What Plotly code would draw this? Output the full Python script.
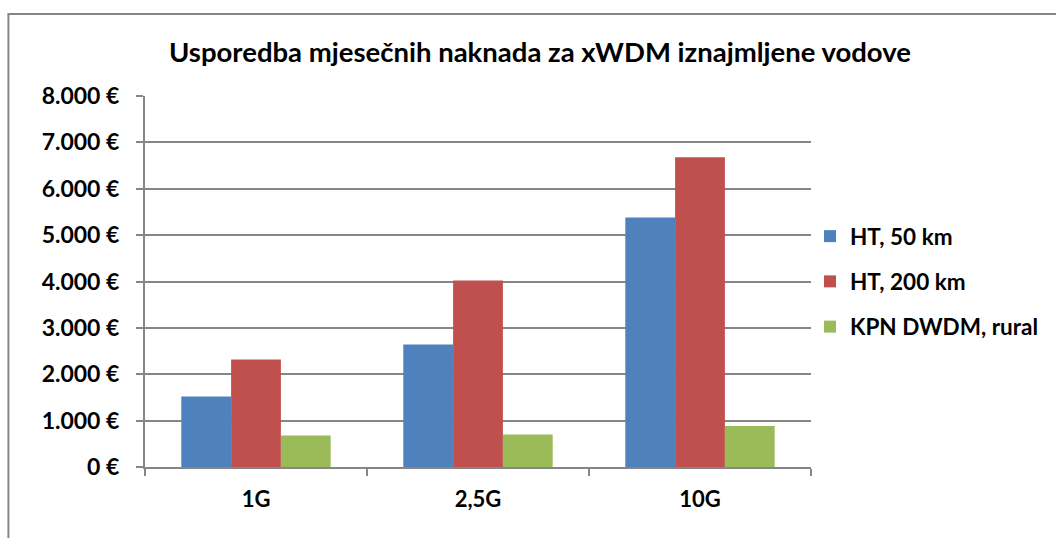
import plotly.graph_objects as go

categories = ["1G", "2,5G", "10G"]
ht_50 = [1520, 2640, 5380]
ht_200 = [2320, 4020, 6680]
kpn_rural = [680, 700, 885]
series_names = ["HT, 50 km", "HT, 200 km", "KPN DWDM, rural"]
colors = ["#4F81BD", "#C0504D", "#9BBB59"]
y_ticks = [0, 1000, 2000, 3000, 4000, 5000, 6000, 7000, 8000]
y_tick_labels = ["0 €", "1.000 €", "2.000 €", "3.000 €", "4.000 €",
                 "5.000 €", "6.000 €", "7.000 €", "8.000 €"]
title = "Usporedba mjesečnih naknada za xWDM iznajmljene vodove"

FONT = "Lato"
GRID = "#868686"

fig = go.Figure()
for i, (name, vals) in enumerate(zip(series_names, [ht_50, ht_200, kpn_rural])):
    fig.add_trace(go.Bar(
        x=categories, y=vals, name=name,
        marker=dict(color=colors[i], line=dict(width=0)),
        legendgroup=name,
    ))

L, R, T, B = 145, 1056 - 813, 96, 538 - 467
pw = 1056 - L - R
ph = 538 - T - B

def px_x(p):
    return (p - L) / pw

def px_y(p):
    return (538 - B - p) / ph

fig.update_layout(
    width=1056, height=538,
    margin=dict(l=L, r=R, t=T, b=B),
    paper_bgcolor="white", plot_bgcolor="white",
    barmode="group", bargap=0.327, bargroupgap=0,
    title=dict(text=title, xref="container", x=540 / 1056, xanchor="center",
               yref="container", y=1 - 52 / 538, yanchor="middle",
               font=dict(family=FONT, size=27.5, color="black", weight="bold")),
    font=dict(family=FONT, color="black"),
    legend=dict(x=px_x(812), xanchor="left", y=0.5, yanchor="middle",
                font=dict(family=FONT, size=22.5, color="black", weight="bold"),
                tracegroupgap=13, bgcolor="rgba(0,0,0,0)", itemwidth=30),
    showlegend=True,
    shapes=[dict(type="rect", xref="paper", yref="paper",
                 x0=px_x(8), x1=px_x(1070), y0=px_y(560), y1=px_y(14),
                 line=dict(color=GRID, width=2), layer="below")],
)
fig.update_xaxes(
    showline=True, linecolor=GRID, linewidth=2,
    ticks="outside", tickson="boundaries", ticklen=7, tickcolor=GRID, tickwidth=2,
    tickfont=dict(family=FONT, size=22, color="black", weight="bold"),
    ticklabelstandoff=12,
    showgrid=False,
)
fig.update_yaxes(
    range=[0, 8000], tickvals=y_ticks, ticktext=y_tick_labels,
    showline=True, linecolor=GRID, linewidth=2,
    ticks="outside", ticklen=7, tickcolor=GRID, tickwidth=2,
    showgrid=True, gridcolor=GRID, gridwidth=2,
    tickfont=dict(family=FONT, size=23, color="black", weight="bold"),
    ticklabelstandoff=12,
    zeroline=False,
)

fig.write_html("out.html", config={"displayModeBar": False},
               post_script="document.body.style.margin='0';")
